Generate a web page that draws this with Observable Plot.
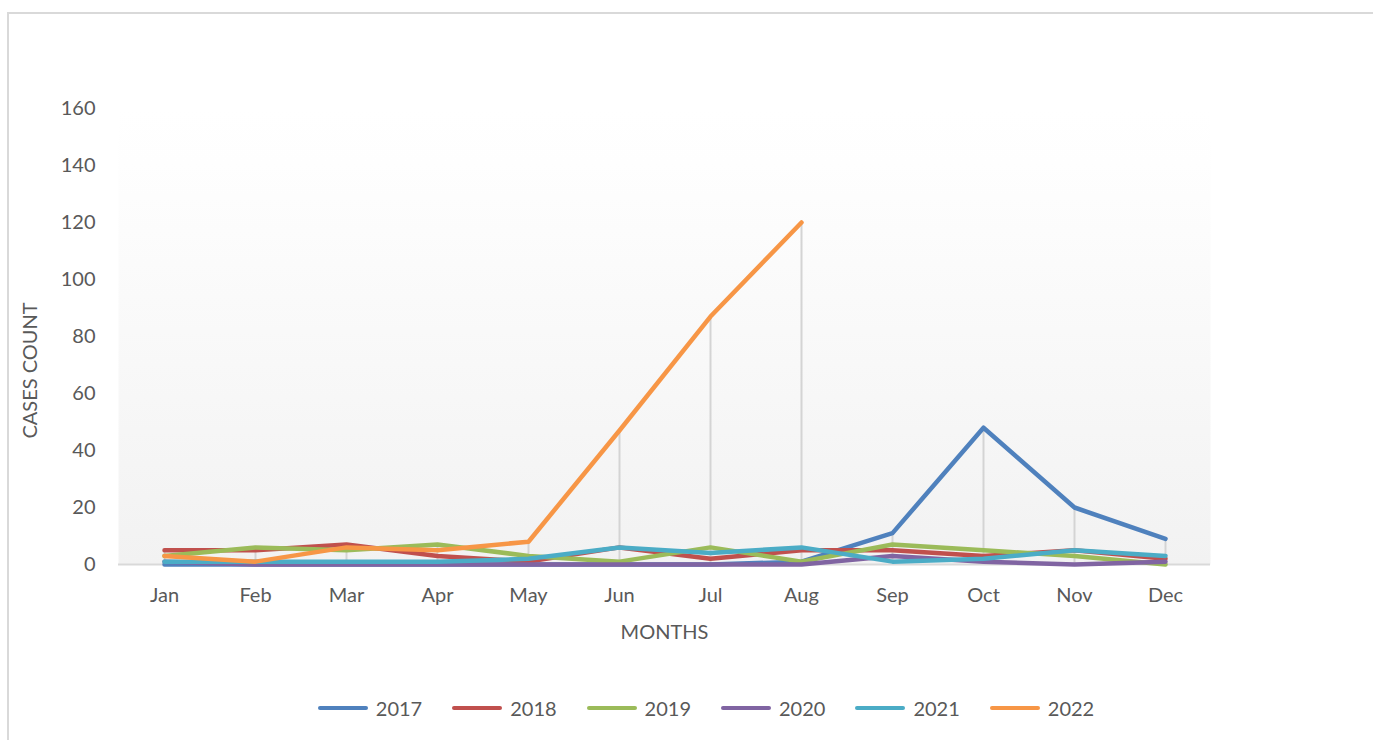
<!DOCTYPE html>
<html>
<head>
<meta charset="utf-8">
<script src="https://cdn.jsdelivr.net/npm/d3@7"></script>
<script src="https://cdn.jsdelivr.net/npm/@observablehq/plot@0.6"></script>
<style>
  html, body { margin: 0; padding: 0; background: #fff; overflow: hidden; }
  body { width: 1373px; height: 740px; position: relative; font-family: Lato, "Open Sans", sans-serif; }
  #border { position: absolute; left: 7px; top: 12px; width: 1400px; height: 800px;
            border-left: 2px solid #d9d9d9; border-top: 2px solid #d9d9d9; box-sizing: border-box; }
  #chart { position: absolute; left: 0; top: 0; }
  #legend { position: absolute; top: 696px; left: 6px; width: 1400px; display: flex; justify-content: center;
            font-size: 20px; color: #595959; }
  .item { display: flex; align-items: center; margin: 0 15px; }
  .sw { width: 50px; height: 4px; border-radius: 2px; margin-right: 8px; }
</style>
</head>
<body>
<div id="border"></div>
<div id="chart"></div>
<div id="legend"></div>
<script>
const months = ["Jan","Feb","Mar","Apr","May","Jun","Jul","Aug","Sep","Oct","Nov","Dec"];
const years = ["2017","2018","2019","2020","2021","2022"];
const colors = ["#4f81bd","#c0504d","#9bbb59","#8064a2","#4bacc6","#f79646"];
const yTicks = [0,20,40,60,80,100,120,140,160];

const s2017 = [0,0,0,0,0,0,0,1,11,48,20,9];
const s2018 = [5,5,7,3,1,6,2,5,5,3,5,2];
const s2019 = [3,6,5,7,3,1,6,1,7,5,3,0];
const s2020 = [1,0,0,0,0,0,0,0,3,1,0,1];
const s2021 = [1,1,1,1,2,6,4,6,1,2,5,3];
const s2022 = [3,1,6,5,8,47,87,120,null,null,null,null];

const seriesList = [s2017, s2018, s2019, s2020, s2021, s2022];

const rows = [];
seriesList.forEach((s, i) => s.forEach((v, j) => rows.push({year: years[i], month: months[j], value: v})));

const hiLo = months.map((m, j) => {
  const vals = seriesList.map(s => s[j]).filter(v => v != null);
  return {month: m, lo: d3.min(vals), hi: d3.max(vals)};
});

const textColor = "#595959";

const plot = Plot.plot({
  width: 1373,
  height: 660,
  marginLeft: 118,
  marginRight: 163,
  marginTop: 108,
  marginBottom: 96,
  style: { fontFamily: "Lato, 'Open Sans', sans-serif", fontSize: "20px", color: textColor, background: "transparent" },
  x: { type: "point", domain: months, padding: 0.5, label: null },
  y: { domain: [0, 160], ticks: yTicks, label: null },
  color: { domain: years, range: colors },
  marks: [
    Plot.frame({ fill: "url(#bgGrad)", stroke: "none" }),
    Plot.axisX({ tickSize: 0, tickPadding: 23, fontSize: 20, fill: textColor, label: null }),
    Plot.axisY({ ticks: yTicks, tickSize: 0, tickPadding: 23, fontSize: 20, fill: textColor, label: null }),
    Plot.ruleX(hiLo, { x: "month", y1: "lo", y2: "hi", stroke: "#d4d4d4", strokeWidth: 2 }),
    Plot.ruleY([0], { stroke: "#d9d9d9", strokeWidth: 2 }),
    ...years.map((yr, i) =>
      Plot.line(rows.filter(r => r.year === yr), {
        x: "month", y: "value", stroke: colors[i], strokeWidth: 4.5,
        strokeLinecap: "round", strokeLinejoin: "round"
      })
    ),
    Plot.text(["MONTHS"], { frameAnchor: "bottom", dy: 74, fontSize: 20, fill: textColor }),
    Plot.text(["CASES COUNT"], { frameAnchor: "left", textAnchor: "middle", dx: -88, dy: 34, rotate: -90, fontSize: 20, fill: textColor })
  ]
});

const ns = "http://www.w3.org/2000/svg";
const defs = document.createElementNS(ns, "defs");
defs.innerHTML = '<linearGradient id="bgGrad" x1="0" y1="0" x2="0" y2="1">' +
  '<stop offset="0%" stop-color="#ffffff"/><stop offset="12%" stop-color="#fefefe"/>' +
  '<stop offset="100%" stop-color="#f2f2f2"/></linearGradient>';
plot.insertBefore(defs, plot.firstChild);
document.getElementById("chart").appendChild(plot);

const legend = document.getElementById("legend");
years.forEach((yr, i) => {
  const item = document.createElement("div");
  item.className = "item";
  const sw = document.createElement("div");
  sw.className = "sw";
  sw.style.background = colors[i];
  const t = document.createElement("span");
  t.textContent = yr;
  item.appendChild(sw);
  item.appendChild(t);
  legend.appendChild(item);
});
</script>
</body>
</html>
